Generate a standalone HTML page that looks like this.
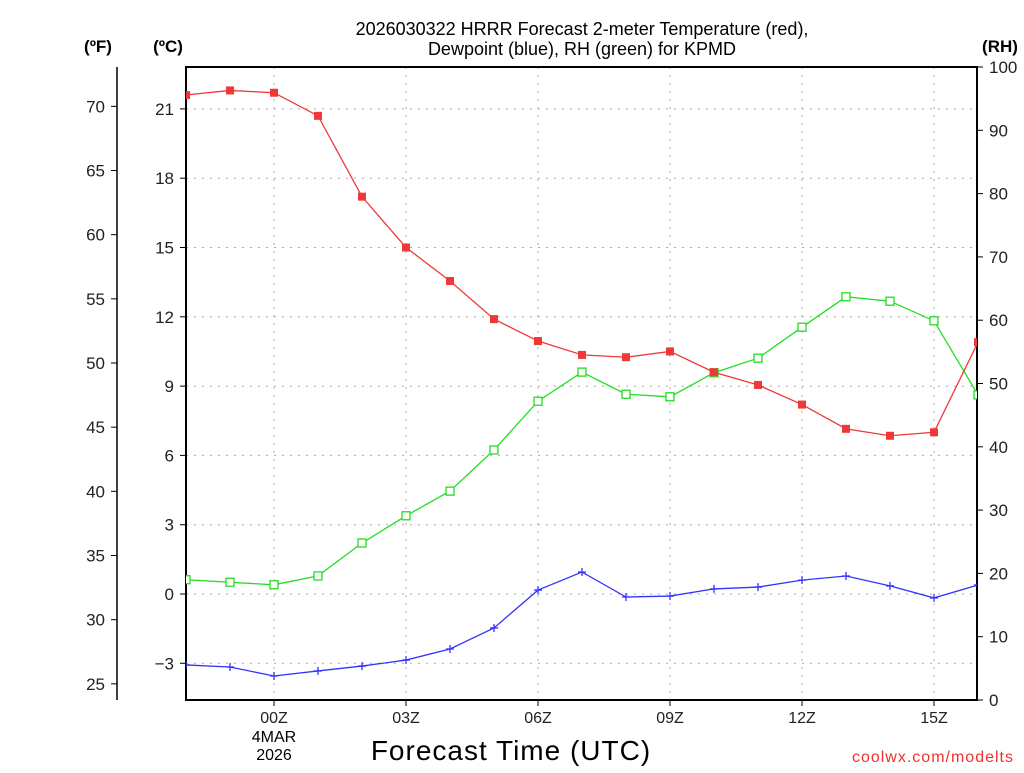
<!DOCTYPE html>
<html><head><meta charset="utf-8"><style>
body{margin:0;background:#fff;width:1024px;height:768px;overflow:hidden;font-family:"Liberation Sans",sans-serif}
svg text{font-family:"Liberation Sans",sans-serif}
</style></head><body>
<svg id="chart" width="1024" height="768" viewBox="0 0 1024 768">
<g id="grid"></g>
<g id="axes"></g>
<g id="series"></g>
<text x="582" y="35" text-anchor="middle" font-size="18">2026030322 HRRR Forecast 2-meter Temperature (red),</text>
<text x="582" y="55" text-anchor="middle" font-size="18">Dewpoint (blue), RH (green) for KPMD</text>
<text x="98" y="52" text-anchor="middle" font-size="17" font-weight="bold">(ºF)</text>
<text x="168" y="52" text-anchor="middle" font-size="17" font-weight="bold">(ºC)</text>
<text x="1000" y="52" text-anchor="middle" font-size="17" font-weight="bold">(RH)</text>
<text x="511" y="760" text-anchor="middle" font-size="28" letter-spacing="1">Forecast Time (UTC)</text>
<text x="274" y="742" text-anchor="middle" font-size="16">4MAR</text>
<text x="274" y="760" text-anchor="middle" font-size="16">2026</text>
<text x="1014" y="762" text-anchor="end" font-size="16" fill="#f03030" letter-spacing="1">coolwx.com/modelts</text>
</svg>
<script>
const hours=[-2,-1,0,1,2,3,4,5,6,7,8,9,10,11,12,13,14,15,16];
const tempC=[21.6,21.8,21.7,20.7,17.2,15.0,13.55,11.9,10.95,10.35,10.25,10.5,9.6,9.05,8.2,7.15,6.85,7.0,10.9];
const dewC=[-3.07,-3.16,-3.55,-3.33,-3.12,-2.86,-2.38,-1.47,0.17,0.95,-0.13,-0.09,0.22,0.3,0.6,0.78,0.35,-0.17,0.39];
const rh=[19.0,18.6,18.2,19.6,24.8,29.1,33.0,39.5,47.2,51.8,48.3,47.9,51.7,54.0,58.9,63.7,63.0,59.9,48.2];
const cTicks=[-3,0,3,6,9,12,15,18,21];
const fTicks=[25,30,35,40,45,50,55,60,65,70];
const rhTicks=[0,10,20,30,40,50,60,70,80,90,100];
const xTickHours=[0,3,6,9,12,15];
const xTickLabels=["00Z","03Z","06Z","09Z","12Z","15Z"];

const L=186,R=977,T=67,B=700;
const xs=h=>274+h*44;
const yc=c=>594-c*23.1;
const yf=f=>yc((f-32)/1.8);
const yr=r=>B-r*6.33;
const NS="http://www.w3.org/2000/svg";
function mk(parent,tag,attrs){const e=document.createElementNS(NS,tag);for(const k in attrs)e.setAttribute(k,attrs[k]);document.getElementById(parent).appendChild(e);return e;}

cTicks.forEach(c=>{const y=yc(c);
 const g=mk('grid','line',{x1:L,x2:R,y1:y,y2:y,stroke:'#aaa','stroke-dasharray':'2,6'});
 
 
 mk('axes','line',{x1:L-6,x2:L,y1:y,y2:y,stroke:'#000'});
 const t=mk('axes','text',{x:L-12,y:y+6,'text-anchor':'end','font-size':'17',fill:'#222'});t.textContent=c<0?'\u2212'+(-c):c;
 
 
});
xTickHours.forEach((h,i)=>{const x=xs(h);
 const g=mk('grid','line',{x1:x,x2:x,y1:T,y2:B,stroke:'#aaa','stroke-dasharray':'2,6'});
 
 
 mk('axes','line',{x1:x,x2:x,y1:B,y2:B+6,stroke:'#000'});
 const t=mk('axes','text',{x:x,y:723,'text-anchor':'middle','font-size':'16',fill:'#222'});t.textContent=xTickLabels[i];
 
 
});
mk('axes','line',{x1:117,x2:117,y1:T,y2:B,stroke:'#000','stroke-width':1.5});
fTicks.forEach(f=>{const y=yf(f);
 mk('axes','line',{x1:111,x2:117,y1:y,y2:y,stroke:'#000'});
 const t=mk('axes','text',{x:105,y:y+6,'text-anchor':'end','font-size':'17',fill:'#222'});t.textContent=f;
 
 
});
rhTicks.forEach(r=>{const y=yr(r);
 mk('axes','line',{x1:R,x2:R+6,y1:y,y2:y,stroke:'#000'});
 const t=mk('axes','text',{x:989,y:y+6,'font-size':'17',fill:'#222'});t.textContent=r;
 
 
});
const fr=mk('axes','rect',{x:L,y:T,width:R-L,height:B-T,fill:'none',stroke:'#000','stroke-width':2});



const clip=mk('series','clipPath',{id:'pc'});
const cr=document.createElementNS(NS,'rect');cr.setAttribute('x',L);cr.setAttribute('y',T);cr.setAttribute('width',R-L);cr.setAttribute('height',B-T);clip.appendChild(cr);
const sg=mk('series','g',{'clip-path':'url(#pc)',id:'sg'});

function series(vals,yfn,color,marker,name){
 const pts=hours.map((h,i)=>[xs(h),yfn(vals[i])]);
 const pl=mk('sg','polyline',{points:pts.map(p=>p.join(',')).join(' '),fill:'none',stroke:color,'stroke-width':1.3});
 
 
 pts.forEach(([x,y])=>{let m;
  if(marker==='fill')m=mk('sg','rect',{x:x-4,y:y-4,width:8,height:8,fill:color});
  else if(marker==='open')m=mk('sg','rect',{x:x-4,y:y-4,width:8,height:8,fill:'#fff',stroke:color,'stroke-width':1.3});
  else m=mk('sg','path',{d:`M${x-4},${y}H${x+4}M${x},${y-4}V${y+4}`,stroke:color,'stroke-width':1.3});
  
  
 });
}
series(rh,yr,'#22dd22','open','rh');
series(dewC,yc,'#3333ff','plus','dewpoint');
series(tempC,yc,'#f03838','fill','temperature');
</script>
</body></html>
